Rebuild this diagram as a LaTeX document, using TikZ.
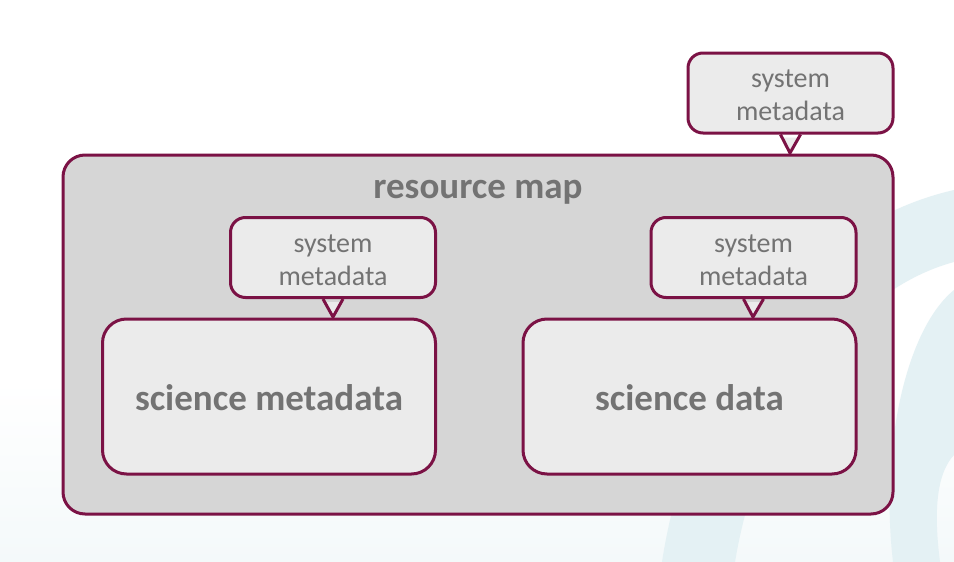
\documentclass[tikz,border=0pt]{standalone}
\usepackage{fontspec}
\setmainfont{Carlito}
\definecolor{maroon}{HTML}{7B1245}
\definecolor{outerfill}{HTML}{D6D6D6}
\definecolor{innerfill}{HTML}{EBEBEB}
\definecolor{txtgray}{HTML}{737373}
\definecolor{swoosh}{HTML}{E4F1F4}
\definecolor{bgtint}{HTML}{F4F9FA}
\tikzset{
  outerbox/.style={draw=maroon, line width=3pt, fill=outerfill, rounded corners=22pt},
  databox/.style={draw=maroon, line width=3pt, fill=innerfill, rounded corners=24pt,
    minimum width=333pt, minimum height=155pt, inner sep=0pt, text=txtgray,
    text height=27pt, text depth=0pt,
    font=\fontsize{37}{44}\selectfont\bfseries},
  smbox/.style={draw=maroon, line width=3pt, fill=innerfill, rounded corners=15pt,
    minimum width=205pt, minimum height=80pt, inner sep=0pt, text=txtgray,
    text height=55pt, text depth=0pt,
    align=center, font=\fontsize{28}{33}\selectfont},
  pointerfill/.style={fill=innerfill},
  pointerline/.style={draw=maroon, line width=3pt, line join=miter},
}
\begin{document}
\begin{tikzpicture}[x=1pt, y=-1pt]
\useasboundingbox (0,0) rectangle (954,562);
% background
\fill[white] (0,0) rectangle (954,562);
\shade[top color=white, bottom color=bgtint] (0,380) rectangle (954,562);
\fill[swoosh] (954,190) .. controls (800,225) and (690,380) .. (662,562) -- (735,562) .. controls (760,410) and (850,290) .. (954,262) -- cycle;
\fill[swoosh] (954,290) .. controls (905,330) and (880,450) .. (893,562) -- (940,562) .. controls (932,500) and (940,470) .. (954,455) -- cycle;

% resource map
\draw[outerbox] (63,155) rectangle (893,514);
\node[anchor=base, inner sep=0pt, text=txtgray, font=\fontsize{37}{44}\selectfont\bfseries] (rm) at (478,198) {resource map};

% inner boxes
\node[databox] (scimeta) at (269,396.5) {science metadata};
\node[databox] (scidata) at (689.5,396.5) {science data};

% system metadata callouts
\node[smbox] (smtop) at (790.5,93) {system\\metadata};
\node[smbox] (smleft) at (333,257.5) {system\\metadata};
\node[smbox] (smright) at (753.5,257.5) {system\\metadata};

% pointers
\coordinate (tiptop) at (790,153);
\coordinate (tipleft) at (333,317);
\coordinate (tipright) at (753,317);
\foreach \n/\tp in {smtop/tiptop, smleft/tipleft, smright/tipright}{
  \fill[pointerfill] ([xshift=-10pt,yshift=-3pt]\n.south) -- ([xshift=10pt,yshift=-3pt]\n.south) -- (\tp) -- cycle;
  \draw[pointerline] ([xshift=-10pt]\n.south) -- (\tp) -- ([xshift=10pt]\n.south);
}
\end{tikzpicture}
\end{document}
